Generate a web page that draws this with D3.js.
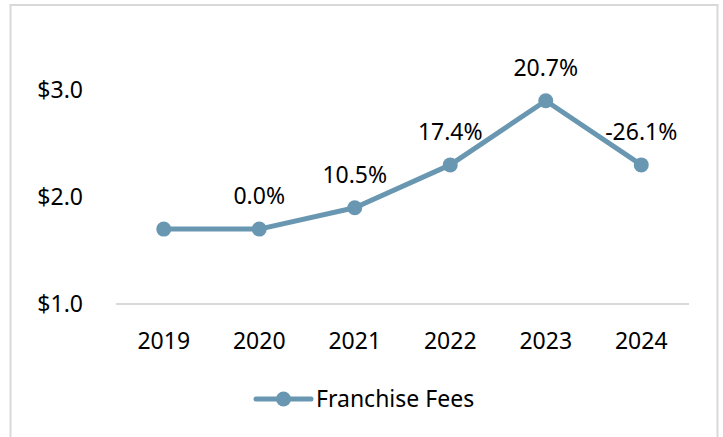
<!DOCTYPE html>
<meta charset="utf-8">
<style>
    body { margin: 0; background: #fff; }
    text { font-family: "Noto Sans", sans-serif; font-size: 23px; fill: #000; }
</style>
<svg id="chart" width="723" height="437"></svg>
<script src="https://cdn.jsdelivr.net/npm/d3@7"></script>
<script>

    var years = ["2019", "2020", "2021", "2022", "2023", "2024"];
    var fees = [1.7, 1.7, 1.9, 2.3, 2.9, 2.3];
    var growth = ["", "0.0%", "10.5%", "17.4%", "20.7%", "-26.1%"];
    var yTicks = [1, 2, 3];
    var seriesName = "Franchise Fees";

    var color = "#6997b1";
    var svg = d3.select("#chart");

    // chart frame
    svg.append("rect")
        .attr("x", 10.5).attr("y", 5)
        .attr("width", 707).attr("height", 460)
        .attr("fill", "none")
        .attr("stroke", "#d9d9d9")
        .attr("stroke-width", 2);

    var x = d3.scalePoint()
        .domain(years)
        .range([116, 689])
        .padding(0.5);

    var y = d3.scaleLinear()
        .domain([1, 3])
        .range([304, 90]);

    // baseline
    svg.append("line")
        .attr("x1", 116).attr("x2", 689)
        .attr("y1", y(1)).attr("y2", y(1))
        .attr("stroke", "#d9d9d9")
        .attr("stroke-width", 2);

    // y labels
    svg.append("g").selectAll("text")
        .data(yTicks)
        .enter().append("text")
        .attr("x", 83)
        .attr("y", function(d) { return y(d); })
        .attr("dy", "0.35em")
        .attr("text-anchor", "end")
        .text(function(d) { return "$" + d3.format(".1f")(d); });

    // x labels
    svg.append("g").selectAll("text")
        .data(years)
        .enter().append("text")
        .attr("x", function(d) { return x(d); })
        .attr("y", 349)
        .attr("text-anchor", "middle")
        .text(function(d) { return d; });

    var data = years.map(function(yr, i) {
        return {year: yr, value: fees[i], label: growth[i]};
    });

    var line = d3.line()
        .x(function(d) { return x(d.year); })
        .y(function(d) { return y(d.value); });

    svg.append("path")
        .datum(data)
        .attr("d", line)
        .attr("fill", "none")
        .attr("stroke", color)
        .attr("stroke-width", 5)
        .attr("stroke-linejoin", "round");

    svg.append("g").selectAll("circle")
        .data(data)
        .enter().append("circle")
        .attr("cx", function(d) { return x(d.year); })
        .attr("cy", function(d) { return y(d.value); })
        .attr("r", 7.5)
        .attr("fill", color);

    // growth labels
    svg.append("g").selectAll("text")
        .data(data.filter(function(d) { return d.label; }))
        .enter().append("text")
        .attr("x", function(d) { return x(d.year); })
        .attr("y", function(d) { return y(d.value) - 25; })
        .attr("text-anchor", "middle")
        .text(function(d) { return d.label; });

    // legend
    var lg = svg.append("g").attr("transform", "translate(256,399)");
    lg.append("line")
        .attr("x1", 0).attr("x2", 55)
        .attr("stroke", color)
        .attr("stroke-width", 5)
        .attr("stroke-linecap", "round");
    lg.append("circle")
        .attr("cx", 27.5).attr("r", 7.5)
        .attr("fill", color);
    lg.append("text")
        .attr("x", 60)
        .attr("dy", "0.35em")
        .text(seriesName);

</script>
